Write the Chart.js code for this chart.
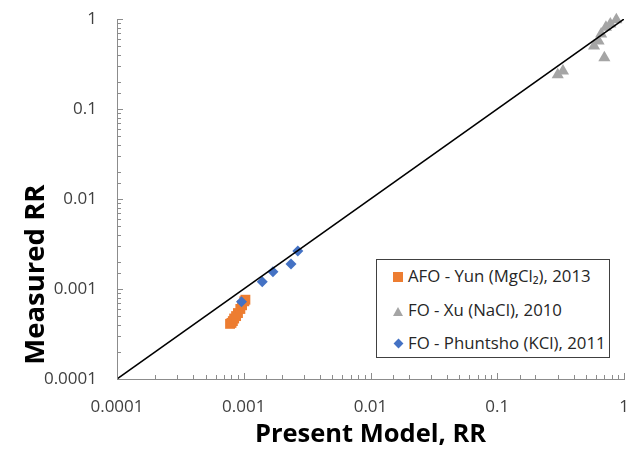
<!DOCTYPE html>
<html>
<head>
<meta charset="utf-8">
<script src="https://cdn.jsdelivr.net/npm/chart.js@4"></script>
<style>
  body { margin: 0; background: #fff; }
  #wrap { position: relative; width: 631px; height: 450px; }
  #legend {
    position: absolute; left: 376px; top: 259px; width: 232px; height: 97px;
    border: 1px solid #404040; background: #fff;
    font-family: "Open Sans", sans-serif; font-size: 16.8px; color: #262626;
  }
  #legend .row { position: absolute; left: 0; height: 20px; line-height: 20px; white-space: nowrap; }
  #legend .mk { position: absolute; left: 16px; top: 5px; width: 10px; height: 10px; }
  #legend .txt { position: absolute; left: 31px; top: -1px; }
</style>
</head>
<body>
<div id="wrap">
  <canvas id="myChart" width="631" height="450"></canvas>
  <div id="legend"></div>
</div>
<script>
// Measured vs predicted reverse salt flux ratio

const seriesNames = ['AFO - Yun (MgCl\u2082), 2013', 'FO - Xu (NaCl), 2010', 'FO - Phuntsho (KCl), 2011'];

// AFO - Yun (MgCl2)
const yunModel    = [0.00078, 0.00080, 0.00082, 0.00084, 0.00087, 0.00090, 0.00094, 0.00097, 0.00101, 0.00103];
const yunMeasured = [0.00041, 0.00042, 0.00044, 0.00047, 0.00050, 0.00054, 0.00060, 0.00066, 0.00073, 0.00076];

// FO - Xu (NaCl)
const xuModel    = [0.30, 0.33, 0.58, 0.63, 0.66, 0.70, 0.72, 0.78, 0.87];
const xuMeasured = [0.24, 0.265, 0.50, 0.57, 0.68, 0.37, 0.81, 0.88, 0.98];

// FO - Phuntsho (KCl)
const phuntshoModel    = [0.00096, 0.0014, 0.0017, 0.00236, 0.00267];
const phuntshoMeasured = [0.00072, 0.0012, 0.00155, 0.0019, 0.00264];

// 1:1 line
const parityLine = [0.0001, 1];

const toPoints = (xs, ys) => xs.map((x, i) => ({ x: x, y: ys[i] }));

const isDecade = (v) => {
    const l = Math.log10(v);
    return Math.abs(l - Math.round(l)) < 1e-9;
};
const decadeLabel = (v) => isDecade(v) ? String(10 ** Math.round(Math.log10(v))) : '';

// no extra room for overflowing tick labels, the plot box is fixed
const noOverflow = (scale) => {
    scale.paddingLeft = 0;
    scale.paddingRight = 0;
    scale.paddingTop = 0;
    scale.paddingBottom = 0;
};

// tick marks drawn inward like the original
const innerTicks = {
    id: 'innerTicks',
    afterDraw(chart) {
        const ctx = chart.ctx;
        const xs = chart.scales.x, ys = chart.scales.y;
        const area = chart.chartArea;
        ctx.save();
        ctx.strokeStyle = '#8c8c8c';
        ctx.lineWidth = 1;
        ctx.beginPath();
        xs.ticks.forEach(t => {
            const px = Math.round(xs.getPixelForValue(t.value)) + 0.5;
            const len = isDecade(t.value) ? 6 : 4;
            ctx.moveTo(px, area.bottom);
            ctx.lineTo(px, area.bottom - len);
        });
        ys.ticks.forEach(t => {
            const py = Math.round(ys.getPixelForValue(t.value)) + 0.5;
            const len = isDecade(t.value) ? 6 : 4;
            ctx.moveTo(area.left, py);
            ctx.lineTo(area.left + len, py);
        });
        ctx.stroke();
        ctx.restore();
    }
};

const tickFont = { family: 'Open Sans', size: 17 };

const config = {
    type: 'scatter',
    data: {
        datasets: [
            {
                label: '1:1',
                type: 'line',
                data: toPoints(parityLine, parityLine),
                borderColor: '#000000',
                borderWidth: 1.5,
                pointRadius: 0,
                fill: false
            },
            {
                label: seriesNames[2],
                data: toPoints(phuntshoModel, phuntshoMeasured),
                pointStyle: 'rectRot',
                pointRadius: 5.5,
                backgroundColor: '#4472C4',
                borderColor: '#4472C4',
                borderWidth: 0,
                clip: false
            },
            {
                label: seriesNames[1],
                data: toPoints(xuModel, xuMeasured),
                pointStyle: 'triangle',
                pointRadius: 7,
                backgroundColor: '#A5A5A5',
                borderColor: '#A5A5A5',
                borderWidth: 0,
                clip: false
            },
            {
                label: seriesNames[0],
                data: toPoints(yunModel, yunMeasured),
                pointStyle: 'rect',
                pointRadius: 7,
                backgroundColor: '#ED7D31',
                borderColor: '#ED7D31',
                borderWidth: 0,
                clip: false
            }
        ]
    },
    options: {
        responsive: false,
        animation: false,
        layout: { padding: { top: 19, right: 4, bottom: 0, left: 0 } },
        plugins: {
            legend: { display: false },
            tooltip: { enabled: false }
        },
        scales: {
            x: {
                type: 'logarithmic',
                min: 0.0001,
                max: 1,
                grid: { display: true, drawOnChartArea: false, drawTicks: false },
                border: { color: '#8c8c8c', width: 1 },
                ticks: { autoSkip: false, maxRotation: 0, padding: 18, color: '#404040', font: tickFont, callback: decadeLabel },
                title: { display: true, text: 'Present Model, RR', color: '#000', font: { family: 'Open Sans', size: 25.5, weight: 'bold' }, padding: { top: 0, bottom: 0 } },
                afterFit: (scale) => { scale.height = 71; noOverflow(scale); }
            },
            y: {
                type: 'logarithmic',
                min: 0.0001,
                max: 1,
                grid: { display: true, drawOnChartArea: false, drawTicks: false },
                border: { color: '#8c8c8c', width: 1 },
                ticks: { autoSkip: false, padding: 20, color: '#404040', font: tickFont, callback: decadeLabel },
                title: { display: true, text: 'Measured RR' + '\u2002'.repeat(11), color: '#000', font: { family: 'Open Sans', size: 27.5, weight: 'bold' }, padding: { top: 20, bottom: 0 } },
                afterFit: (scale) => { scale.width = 117; noOverflow(scale); }
            }
        }
    },
    plugins: [innerTicks]
};

const myChart = new Chart(document.getElementById('myChart'), config);

// legend box
const legendItems = [
    { name: seriesNames[0], color: '#ED7D31', shape: 'square' },
    { name: seriesNames[1], color: '#A5A5A5', shape: 'triangle' },
    { name: seriesNames[2], color: '#4472C4', shape: 'diamond' }
];
const legendEl = document.querySelector('#legend');
legendItems.forEach((item, i) => {
    const row = document.createElement('div');
    row.className = 'row';
    row.style.top = (7 + i * 33.5) + 'px';
    let mk = '';
    if (item.shape === 'square') {
        mk = `<span class="mk" style="background:${item.color}"></span>`;
    } else if (item.shape === 'triangle') {
        mk = `<span class="mk" style="width:0;height:0;top:6px;left:16px;border-left:5px solid transparent;border-right:5px solid transparent;border-bottom:9px solid ${item.color}"></span>`;
    } else {
        mk = `<span class="mk" style="width:7px;height:7px;top:6px;left:18px;background:${item.color};transform:rotate(45deg)"></span>`;
    }
    row.innerHTML = mk + `<span class="txt">${item.name}</span>`;
    legendEl.appendChild(row);
});
</script>
</body>
</html>
